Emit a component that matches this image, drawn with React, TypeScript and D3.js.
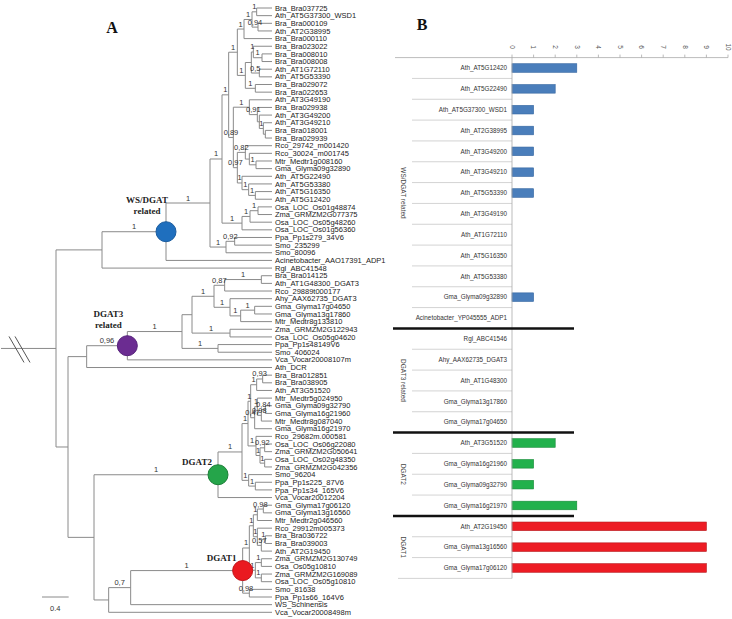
import React from "react";
import * as d3 from "d3";

// ---------------- Tree data (branch lengths in substitutions/site, bootstrap labels) ----------------
type TNode = { len: number; bs: string; c: Child[] };
type Child = TNode | string;
const n = (len: number, bs: string, ...c: Child[]): TNode => ({ len, bs, c });

const wsTopA = n(0.10, "1", n(0.12, "1", n(0.07, "1", "Bra_Bra037725", "Ath_AT5G37300_WSD1"), n(0.09, "0,94", "Bra_Bra000109", "Ath_AT2G38995")), "Bra_Bra000110");
const wsTopB = n(0.12, "1", n(0.09, "", n(0.03, "1", "Bra_Bra023022", n(0.13, "1", "Bra_Bra008010", "Bra_Bra008008")), n(0.12, "0,5", "Ath_AT1G72110", "Ath_AT5G53390")), n(0.15, "1", "Bra_Bra029072", "Bra_Bra022653"));
const wsMidA = n(0.24, "1", "Ath_AT3G49190", n(0.12, "0,91", "Bra_Bra029938", n(0.03, "", "Ath_AT3G49200", n(0.06, "1", "Ath_AT3G49210", n(0.03, "", "Bra_Bra018001", "Bra_Bra029939")))));
const wsMidB = n(0.06, "0,97", n(0.12, "0,82", "Rco_29742_m001420", n(0.06, "", "Rco_30024_m001745", n(0.10, "1", "Mtr_Medtr1g008160", "Gma_Glyma09g32890"))), n(0.07, "1", "Ath_AT5G22490", n(0.10, "1", "Ath_AT5G53380", n(0.10, "1", "Ath_AT5G16350", "Ath_AT5G12420"))));
const wsMono = n(0.30, "1", n(0.12, "1", n(0.12, "1", "Osa_LOC_Os01g48874", "Zma_GRMZM2G077375"), "Osa_LOC_Os05g48260"), "Osa_LOC_Os01g56360");
const wsBasal = n(0.24, "1", n(0.13, "0,92", "Ppa_Pp1s279_34V6", "Smo_235299"), "Smo_80096");
const wsClade = n(0.96, "1", n(0.66, "1", n(0.18, "1", n(0.10, "1", n(0.13, "1", wsTopA, wsTopB), n(0.07, "0,89", wsMidA, wsMidB)), wsMono), wsBasal), "Acinetobacter_AAO17391_ADP1");

const dgat3Clade = n(0.61, "0,96", n(0.82, "1", n(0.15, "", n(0.33, "1", n(0.16, "0,87", n(0.55, "1", "Bra_Bra014125", "Ath_AT1G48300_DGAT3"), "Rco_29889t000177"), n(0.24, "1", "Ahy_AAX62735_DGAT3", n(0.16, "1", n(0.21, "1", "Gma_Glyma17g04650", "Gma_Glyma13g17860"), "Mtr_Medtr8g133810"))), n(0.57, "1", "Zma_GRMZM2G122943", "Osa_LOC_Os05g04620")), n(0.54, "1", "Ppa_Pp1s48149V6", "Smo_406024")), "Vca_Vocar20008107m");

const dgat2Clade = n(1.86, "1", n(0.36, "1", n(0.09, "1", n(0.04, "1", n(0.09, "1", n(0.09, "0,93", "Bra_Bra012851", "Bra_Bra038905"), "Ath_AT3G51520"), n(0.06, "0,47", n(0.04, "1", "Mtr_Medtr5g024950", n(0.06, "0,98", n(0.06, "0,84", "Gma_Glyma09g32790", "Gma_Glyma16g21960"), "Mtr_Medtr8g087040")), "Gma_Glyma16g21970")), n(0.12, "1", "Rco_29682m.000581", n(0.06, "1", n(0.07, "0,92", "Osa_LOC_Os06g22080", "Zma_GRMZM2G050641"), n(0.07, "1", "Osa_LOC_Os02g48350", "Zma_GRMZM2G042356")))), n(0.10, "1", "Smo_96204", n(0.10, "1", "Ppa_Pp1s225_87V6", "Ppa_Pp1s34_165V6"))), "Vca_Vocar20012204");

const dgat1Clade = n(1.68, "1", n(0.10, "1", n(0.06, "1", n(0.06, "1", n(0.09, "0,98", "Gma_Glyma17g06120", "Gma_Glyma13g16560"), "Mtr_Medtr2g046560"), n(0.06, "1", "Rco_29912m005373", n(0.06, "0,57", n(0.06, "1", "Bra_Bra036722", "Bra_Bra039003"), "Ath_AT2G19450"))), n(0.09, "1", n(0.09, "1", "Zma_GRMZM2G130749", "Osa_Os05g10810"), n(0.09, "1", "Zma_GRMZM2G169089", "Osa_LOC_Os05g10810"))), n(0.10, "0,98", "Smo_81638", "Ppa_Pp1s66_164V6"));

const treeRoot = n(0, "", n(0.69, "", wsClade, "Rgl_ABC41548"), n(0.18, "", n(0.28, "", dgat3Clade, "Ath_DCR"), n(0.39, "", dgat2Clade, n(0.22, "", n(0.33, "0,7", dgat1Clade, "WS_Schinensis"), "Vca_Vocar20008498m"))));
const tipDepth = 3.24;
const scaleBarValue = 0.4;

const cladeNames = [["WS/DGAT", "related"], ["DGAT3", "related"], ["DGAT2"], ["DGAT1"]];
const cladeLeafPairs = [
  ["Ath_AT5G37300_WSD1", "Acinetobacter_AAO17391_ADP1"],
  ["Bra_Bra014125", "Vca_Vocar20008107m"],
  ["Ath_AT3G51520", "Vca_Vocar20012204"],
  ["Gma_Glyma17g06120", "Ppa_Pp1s66_164V6"],
];
const cladeColors = ["#1f6fbe", "#6b2c91", "#25a54a", "#ea1a20"];
const cladeStroke = ["#1a5c9f", "#55207a", "#1b7f37", "#c21318"];

// ---------------- Bar chart data ----------------
const barCategories = [
  "Ath_AT5G12420", "Ath_AT5G22490", "Ath_AT5G37300_WSD1", "Ath_AT2G38995", "Ath_AT3G49200", "Ath_AT3G49210",
  "Ath_AT5G53390", "Ath_AT3G49190", "Ath_AT1G72110", "Ath_AT5G16350", "Ath_AT5G53380", "Gma_Glyma09g32890",
  "Acinetobacter_YP045555_ADP1",
  "Rgl_ABC41546", "Ahy_AAX62735_DGAT3", "Ath_AT1G48300", "Gma_Glyma13g17860", "Gma_Glyma17g04650",
  "Ath_AT3G51520", "Gma_Glyma16g21960", "Gma_Glyma09g32790", "Gma_Glyma16g21970",
  "Ath_AT2G19450", "Gma_Glyma13g16560", "Gma_Glyma17g06120",
];
const barValues = [3, 2, 1, 1, 1, 1, 1, 0, 0, 0, 0, 1, 0, 0, 0, 0, 0, 0, 2, 1, 1, 3, 9, 9, 9];
const barGroupNames = ["WS/DGAT related", "DGAT3 related", "DGAT2", "DGAT1"];
const barGroupSizes = [13, 5, 4, 3];
const barAxisMax = 10;
const barFill = ["#4a7ebb", "#6b2c91", "#22b14c", "#ed1c24"];
const barStroke = ["#3465a0", "#55207a", "#178a38", "#b5161b"];

const sans = "'Liberation Sans', Arial, sans-serif";
const serif = "'Liberation Serif', 'Times New Roman', serif";

export default function App() {
  // ---- tree layout ----
  const root = d3.hierarchy<Child>(treeRoot, (d) => (typeof d === "string" ? null : d.c));
  const leaves = root.leaves();
  const xT = d3.scaleLinear().domain([0, tipDepth]).range([56, 272]);
  const yT = d3.scaleLinear().domain([0, leaves.length - 1]).range([8, 612.3]);
  const depth = new Map<any, number>();
  const pos = new Map<any, { x: number; y: number }>();
  root.eachBefore((nd) => {
    const len = typeof nd.data === "string" ? 0 : nd.data.len;
    depth.set(nd, nd.parent ? depth.get(nd.parent)! + len : 0);
  });
  leaves.forEach((lf, i) => pos.set(lf, { x: xT(tipDepth), y: yT(i) }));
  root.eachAfter((nd) => {
    if (nd.children) {
      const ch = nd.children;
      pos.set(nd, { x: xT(depth.get(nd)!), y: (pos.get(ch[0])!.y + pos.get(ch[ch.length - 1])!.y) / 2 });
    }
  });
  const lineColor = "#8a8a8a";
  const branchEls: React.ReactNode[] = [];
  const bsEls: React.ReactNode[] = [];
  let k = 0;
  root.each((nd) => {
    const p = pos.get(nd)!;
    if (nd.children) {
      const ch = nd.children;
      branchEls.push(<line key={k++} x1={p.x} x2={p.x} y1={pos.get(ch[0])!.y} y2={pos.get(ch[ch.length - 1])!.y} stroke={lineColor} strokeWidth={1} />);
    }
    if (nd.parent) {
      const pp = pos.get(nd.parent)!;
      branchEls.push(<line key={k++} x1={pp.x} x2={p.x} y1={p.y} y2={p.y} stroke={lineColor} strokeWidth={1} />);
      if (typeof nd.data !== "string" && nd.data.bs) {
        bsEls.push(<text key={k++} x={(pp.x + p.x) / 2} y={p.y - 2.5} fontSize={7.5} fontFamily={sans} textAnchor="middle" fill="#333">{nd.data.bs}</text>);
      }
    }
  });
  const rootP = pos.get(root)!;
  const byName = new Map<string, any>();
  leaves.forEach((lf) => byName.set(lf.data as string, lf));
  const markers = cladeLeafPairs.map((pair, i) => {
    const path = byName.get(pair[0]).path(byName.get(pair[1]));
    const lca = path.reduce((a: any, b: any) => (b.depth < a.depth ? b : a));
    return { p: pos.get(lca)!, i };
  });

  // ---- bar chart layout ----
  const xB = d3.scaleLinear().domain([0, barAxisMax]).range([512, 728]);
  const yB = d3.scaleBand<string>().domain(barCategories).range([57.6, 578.4]);
  const bw = yB.bandwidth();
  const groupOf: number[] = [];
  barGroupSizes.forEach((s, gi) => { for (let j = 0; j < s; j++) groupOf.push(gi); });
  const groupStarts: number[] = [];
  barGroupSizes.reduce((acc, s) => { groupStarts.push(acc); return acc + s; }, 0);

  return (
    <svg width={732} height={619} style={{ position: "absolute", left: 0, top: 0, background: "#fff" }}>
      {/* Panel letters */}
      <text x={112} y={33} fontFamily={serif} fontWeight="bold" fontSize={16} textAnchor="middle" fill="#111">A</text>
      <text x={422} y={30} fontFamily={serif} fontWeight="bold" fontSize={16} textAnchor="middle" fill="#111">B</text>

      {/* root stem with break marks */}
      <line x1={1} x2={rootP.x} y1={rootP.y} y2={rootP.y} stroke={lineColor} strokeWidth={1} />
      <line x1={9} y1={rootP.y - 12} x2={24} y2={rootP.y + 14} stroke="#555" strokeWidth={1} />
      <line x1={15} y1={rootP.y - 12} x2={30} y2={rootP.y + 14} stroke="#555" strokeWidth={1} />
      {branchEls}
      {bsEls}
      {leaves.map((lf, i) => (
        <text key={"lf" + i} x={pos.get(lf)!.x + 3} y={pos.get(lf)!.y} dy="0.35em" fontSize={7.5} fontFamily={sans} fill="#222">{lf.data as string}</text>
      ))}
      {markers.map(({ p, i }) => {
        const names = cladeNames[i];
        return (
          <g key={"m" + i}>
            <circle cx={p.x} cy={p.y} r={10} fill={cladeColors[i]} stroke={cladeStroke[i]} strokeWidth={1} />
            {names.length === 2 ? (
              <>
                <text x={p.x - 19} y={p.y - 29} fontFamily={serif} fontWeight="bold" fontSize={9} textAnchor="middle" fill="#222">{names[0]}</text>
                <text x={p.x - 19} y={p.y - 18} fontFamily={serif} fontWeight="bold" fontSize={9} textAnchor="middle" fill="#222">{names[1]}</text>
              </>
            ) : (
              <text x={p.x - 21} y={p.y - 10} fontFamily={serif} fontWeight="bold" fontSize={9} textAnchor="middle" fill="#222">{names[0]}</text>
            )}
          </g>
        );
      })}
      {/* scale bar */}
      <line x1={42} x2={42 + xT(scaleBarValue) - xT(0)} y1={597} y2={597} stroke={lineColor} strokeWidth={1} />
      <text x={42 + (xT(scaleBarValue) - xT(0)) / 2} y={611} fontFamily={sans} fontSize={7.5} textAnchor="middle" fill="#333">{String(scaleBarValue)}</text>

      {/* ---------- Panel B ---------- */}
      <line x1={395} x2={728} y1={57.6} y2={57.6} stroke="#aaa" strokeWidth={0.8} />
      {xB.ticks(10).map((t) => (
        <g key={"t" + t}>
          <line x1={xB(t)} x2={xB(t)} y1={57.6} y2={54.6} stroke="#aaa" strokeWidth={0.8} />
          <text transform={`translate(${xB(t)},47) rotate(90)`} fontFamily={sans} fontSize={6.5} textAnchor="middle" dy="0.35em" fill="#555">{t}</text>
        </g>
      ))}
      {/* row separators */}
      {barCategories.map((c, i) => {
        if (i === 0) return null;
        if (groupStarts.includes(i)) return null;
        const y = yB(c)!;
        return <line key={"s" + i} x1={412} x2={512} y1={y} y2={y} stroke="#c8c8c8" strokeWidth={0.8} />;
      })}
      <line x1={398} x2={512} y1={578.4} y2={578.4} stroke="#c8c8c8" strokeWidth={0.8} />
      {/* bars */}
      {barCategories.map((c, i) =>
        barValues[i] > 0 ? (
          <rect key={"b" + i} x={xB(0)} y={yB(c)! + bw / 2 - 4.3} width={xB(barValues[i]) - xB(0)} height={8.6}
            fill={barFill[groupOf[i]]} stroke={barStroke[groupOf[i]]} strokeWidth={0.6} />
        ) : null
      )}
      <line x1={512} x2={512} y1={57.6} y2={578.4} stroke="#aaa" strokeWidth={0.8} />
      {/* category labels */}
      {barCategories.map((c, i) => (
        <text key={"c" + i} x={507} y={yB(c)! + bw / 2} dy="0.35em" textAnchor="end" fontFamily={sans} fontSize={6.3} fill="#333">{c}</text>
      ))}
      {/* group separators and labels */}
      {groupStarts.slice(1).map((s, gi) => {
        const y = yB(barCategories[s])!;
        return <line key={"g" + gi} x1={393} x2={574} y1={y} y2={y} stroke="#111" strokeWidth={2.5} />;
      })}
      {barGroupNames.map((g, gi) => {
        const y0 = yB(barCategories[groupStarts[gi]])!;
        const y1 = yB(barCategories[groupStarts[gi] + barGroupSizes[gi] - 1])! + bw;
        return (
          <text key={"gl" + gi} transform={`translate(403,${(y0 + y1) / 2}) rotate(90)`} textAnchor="middle" dy="0.35em" fontFamily={sans} fontSize={6.5} fill="#444">{g}</text>
        );
      })}
    </svg>
  );
}
